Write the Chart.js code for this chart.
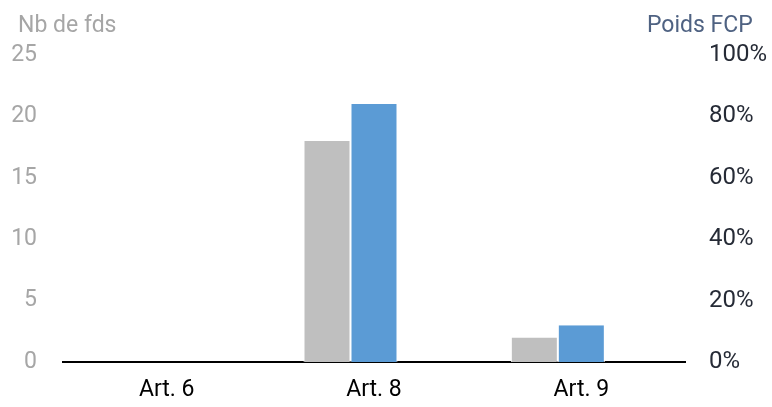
<!DOCTYPE html>
<html>
<head>
<meta charset="utf-8">
<script src="https://cdn.jsdelivr.net/npm/chart.js@4"></script>
<style>
  html, body { margin: 0; padding: 0; background: #fff; }
  #wrap { position: relative; width: 772px; height: 407px; font-family: Roboto, sans-serif; }
  .ttl { position: absolute; top: 11px; font-size: 23px; white-space: nowrap; }
  #ttlLeft { left: 18px; color: #a6a6a6; }
  #ttlRight { left: 647px; color: #4f6282; }
</style>
</head>
<body>
<div id="wrap">
  <canvas id="chart" width="772" height="407"></canvas>
  <div class="ttl" id="ttlLeft">Nb de fds</div>
  <div class="ttl" id="ttlRight">Poids FCP</div>
</div>
<script>
// ── Data ──────────────────────────────────────────────────────────────────────
const categories = ['Art. 6', 'Art. 8', 'Art. 9'];
const nbFonds = [0, 18, 2];        // left axis
const poidsFcp = [0, 84, 12];      // right axis, %
const emptySlot = [null, null, null]; // empty third series slot in the source chart
const leftTicks = [0, 5, 10, 15, 20, 25];
const rightTicks = [0, 20, 40, 60, 80, 100];

const FONT = { family: 'Roboto, sans-serif', size: 23 };
const BAR = { categoryPercentage: 0.68, barPercentage: 1.0, borderColor: '#ffffff', borderWidth: { left: 1, right: 1 } };

new Chart(document.getElementById('chart'), {
    type: 'bar',
    data: {
        labels: categories,
        datasets: [
            { label: 'Nb de fds', data: nbFonds, yAxisID: 'y', backgroundColor: '#bfbfbf', ...BAR },
            { label: 'Poids FCP', data: poidsFcp, yAxisID: 'y1', backgroundColor: '#5b9bd5', ...BAR },
            { label: '', data: emptySlot, yAxisID: 'y1', backgroundColor: 'rgba(0,0,0,0)', ...BAR }
        ]
    },
    options: {
        responsive: false, animation: false,
        layout: { padding: { top: 55, left: 0, right: 0, bottom: 0 } },
        plugins: { legend: { display: false }, tooltip: { enabled: false } },
        scales: {
            x: {
                grid: { display: false },
                border: { color: '#000000', width: 2 },
                ticks: { color: '#000000', font: FONT, padding: 6 },
                afterFit: s => { s.height = 45; }
            },
            y: {
                position: 'left', min: 0, max: 25,
                grid: { display: false }, border: { display: false },
                afterBuildTicks: s => { s.ticks = leftTicks.map(v => ({ value: v })); },
                ticks: { color: '#a6a6a6', font: FONT, padding: 18 },
                afterFit: s => { s.width = 63; }
            },
            y1: {
                position: 'right', min: 0, max: 100,
                grid: { display: false }, border: { display: false },
                afterBuildTicks: s => { s.ticks = rightTicks.map(v => ({ value: v })); },
                ticks: { color: '#262b36', font: { ...FONT, size: 24 }, padding: 16, callback: v => v + '%' },
                afterFit: s => { s.width = 87; }
            }
        }
    }
});
</script>
</body>
</html>
